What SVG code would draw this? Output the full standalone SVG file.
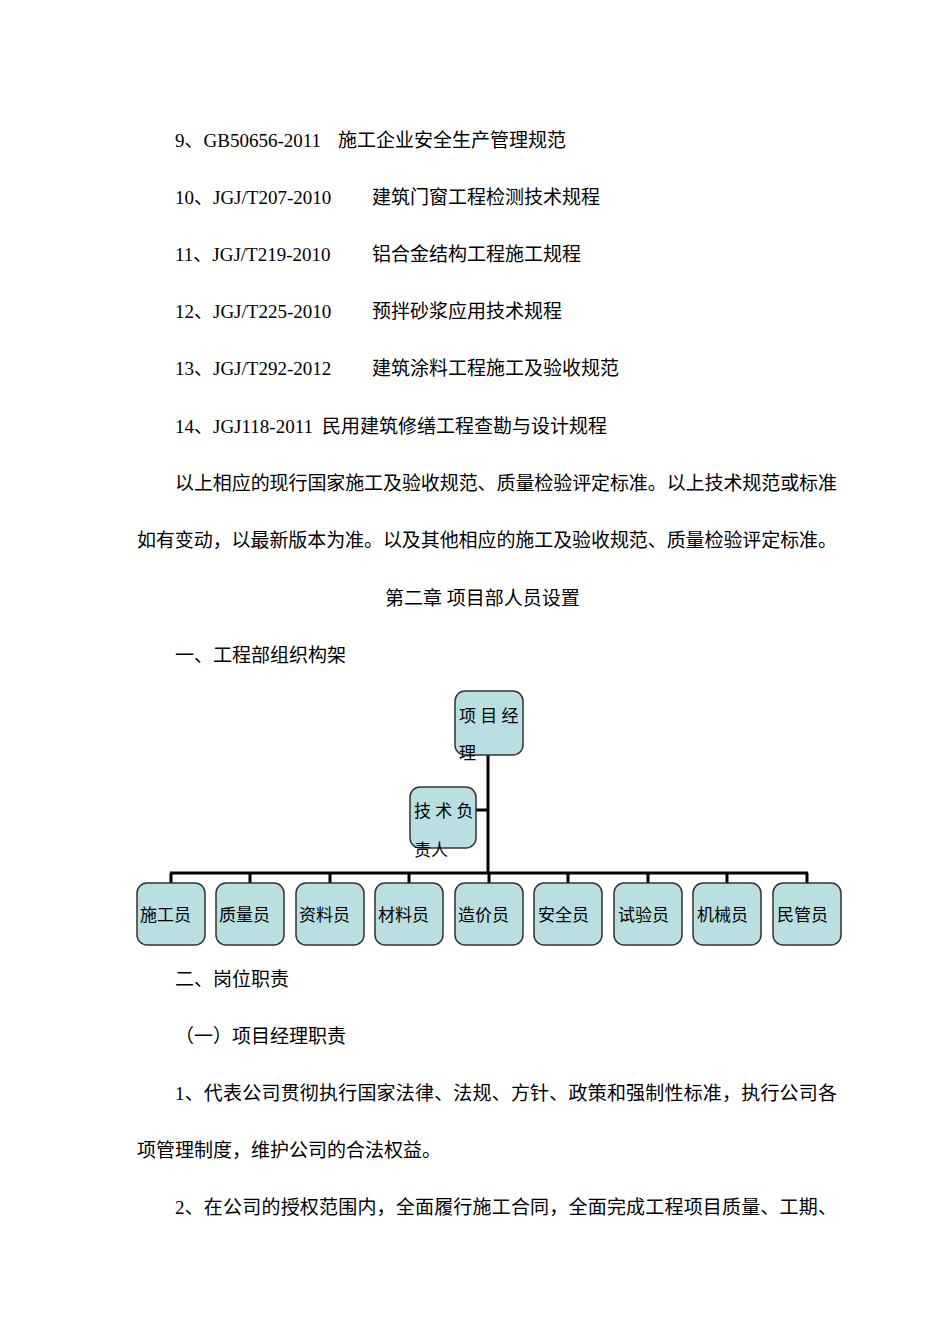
<svg xmlns="http://www.w3.org/2000/svg" width="950" height="1344" viewBox="0 0 950 1344">
<style>
text{font-family:"Liberation Serif","Noto Sans CJK SC",serif;font-size:19px;fill:#000}
.b{fill:#b9dfe0;stroke:#333;stroke-width:1.5}
.c{stroke:#000;stroke-width:3;fill:none}
.n{font-size:17px}
</style>
<rect width="950" height="1344" fill="#fff"/>
<text x="175" y="147">9、GB50656-2011<tspan x="338">施工企业安全生产管理规范</tspan></text>
<text x="175" y="204">10、JGJ/T207-2010<tspan x="372">建筑门窗工程检测技术规程</tspan></text>
<text x="175" y="261">11、JGJ/T219-2010<tspan x="372">铝合金结构工程施工规程</tspan></text>
<text x="175" y="318">12、JGJ/T225-2010<tspan x="372">预拌砂浆应用技术规程</tspan></text>
<text x="175" y="375">13、JGJ/T292-2012<tspan x="372">建筑涂料工程施工及验收规范</tspan></text>
<text x="175" y="433">14、JGJ118-2011<tspan x="322">民用建筑修缮工程查勘与设计规程</tspan></text>
<text x="175" y="490" textLength="662">以上相应的现行国家施工及验收规范、质量检验评定标准。以上技术规范或标准</text>
<text x="137" y="547" textLength="700">如有变动，以最新版本为准。以及其他相应的施工及验收规范、质量检验评定标准。</text>
<text x="385" y="605">第二章 项目部人员设置</text>
<text x="175" y="662">一、工程部组织构架</text>
<g id="connectors" class="c">
<path d="M488 755V873M476 810H488M170 873H808"/>
<path d="M171 873V883M250 873V883M330 873V883M409 873V883M489 873V883M568 873V883M648 873V883M727 873V883M807 873V883"/>
</g>
<g id="n-pm"><rect class="b" x="455" y="691" width="68" height="64" rx="10"/><text class="n" x="459" y="722">项 目 经</text><text class="n" x="459" y="759">理</text></g>
<g id="n-tech"><rect class="b" x="410" y="787" width="66" height="61" rx="10"/><text class="n" x="414" y="817">技 术 负</text><text class="n" x="414" y="856">责人</text></g>
<g id="n1"><rect class="b" x="137" y="883" width="68" height="62" rx="10"/><text class="n" x="140" y="921">施工员</text></g>
<g id="n2"><rect class="b" x="216" y="883" width="68" height="62" rx="10"/><text class="n" x="219" y="921">质量员</text></g>
<g id="n3"><rect class="b" x="296" y="883" width="68" height="62" rx="10"/><text class="n" x="299" y="921">资料员</text></g>
<g id="n4"><rect class="b" x="375" y="883" width="68" height="62" rx="10"/><text class="n" x="378" y="921">材料员</text></g>
<g id="n5"><rect class="b" x="455" y="883" width="68" height="62" rx="10"/><text class="n" x="458" y="921">造价员</text></g>
<g id="n6"><rect class="b" x="534" y="883" width="68" height="62" rx="10"/><text class="n" x="538" y="921">安全员</text></g>
<g id="n7"><rect class="b" x="614" y="883" width="68" height="62" rx="10"/><text class="n" x="618" y="921">试验员</text></g>
<g id="n8"><rect class="b" x="693" y="883" width="68" height="62" rx="10"/><text class="n" x="697" y="921">机械员</text></g>
<g id="n9"><rect class="b" x="773" y="883" width="68" height="62" rx="10"/><text class="n" x="777" y="921">民管员</text></g>
<text x="175" y="986">二、岗位职责</text>
<text x="175" y="1043">（一）项目经理职责</text>
<text x="175" y="1100" textLength="662">1、代表公司贯彻执行国家法律、法规、方针、政策和强制性标准，执行公司各</text>
<text x="137" y="1157">项管理制度，维护公司的合法权益。</text>
<text x="175" y="1214" textLength="662">2、在公司的授权范围内，全面履行施工合同，全面完成工程项目质量、工期、</text>
</svg>
